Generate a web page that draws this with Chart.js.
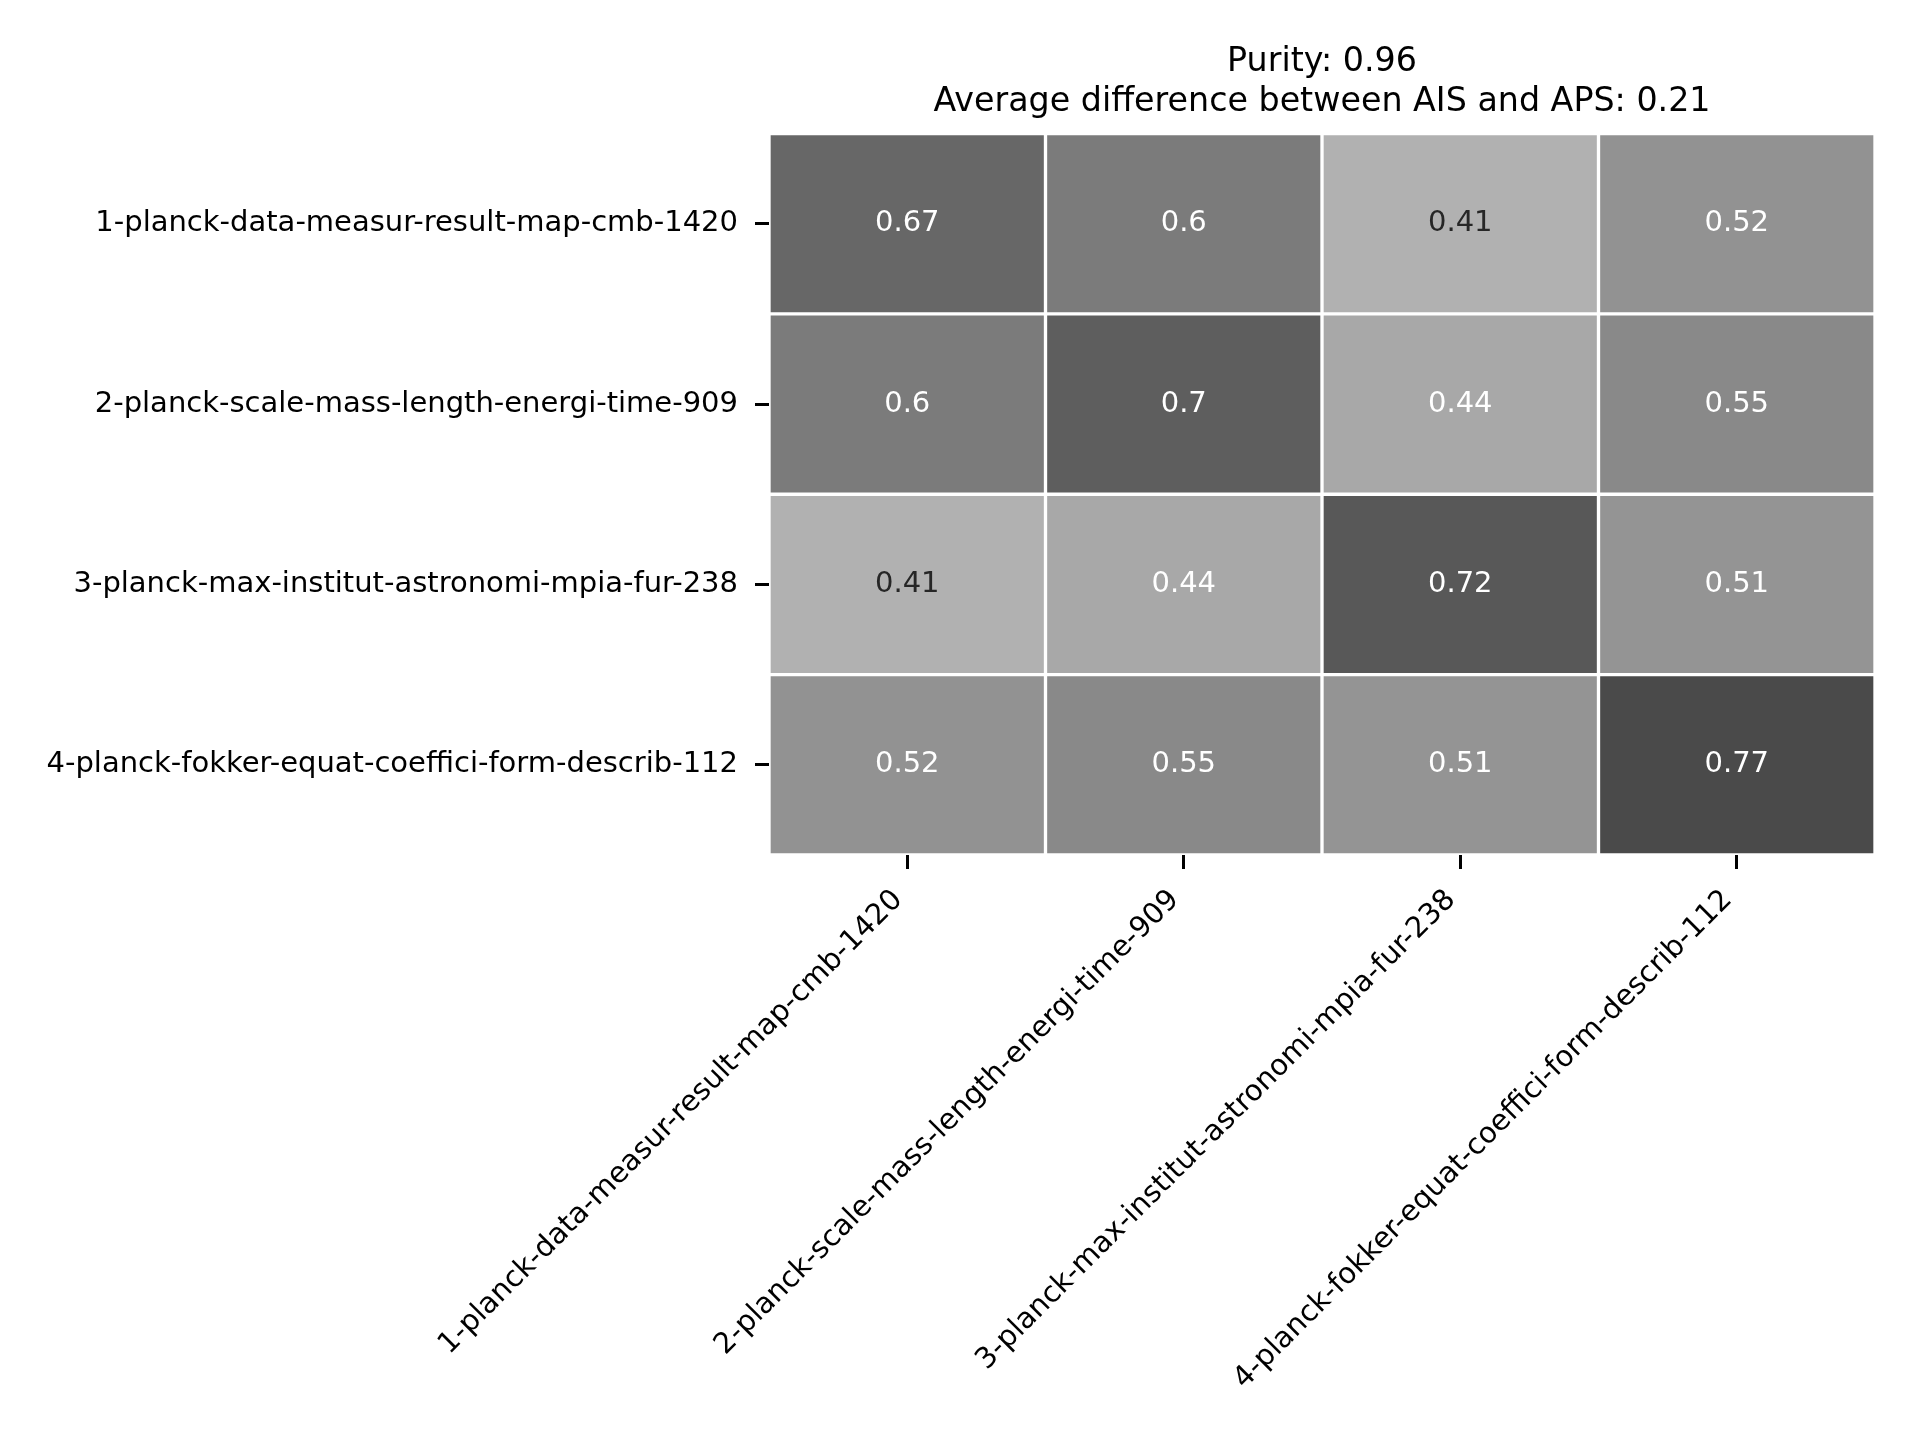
<!DOCTYPE html>
<html>
<head>
<meta charset="utf-8">
<script src="https://cdn.jsdelivr.net/npm/chart.js@4.4.1/dist/chart.umd.min.js"></script>
<style>
  body { margin: 0; background: #fff; }
  #wrap { width: 1920px; height: 1440px; }
</style>
</head>
<body>
<div id="wrap"><canvas id="myChart" width="1920" height="1440"></canvas></div>
<script>
// topics on both axes
const topics = [
    '1-planck-data-measur-result-map-cmb-1420',
    '2-planck-scale-mass-length-energi-time-909',
    '3-planck-max-institut-astronomi-mpia-fur-238',
    '4-planck-fokker-equat-coeffici-form-describ-112'
];
// one row per topic (top to bottom)
const row1 = [0.67, 0.6, 0.41, 0.52];
const row2 = [0.6, 0.7, 0.44, 0.55];
const row3 = [0.41, 0.44, 0.72, 0.51];
const row4 = [0.52, 0.55, 0.51, 0.77];
const rows = [row1, row2, row3, row4];

const purity = 0.96;
const avgDiff = 0.21;

// grey colormap, light for low values, dark for high
function greyLevel(v) {
    let g = Math.round(177 + (v - 0.41) * (74 - 177) / (0.77 - 0.41));
    return Math.max(0, Math.min(255, g));
}
function cellColor(v) {
    const g = greyLevel(v);
    return 'rgb(' + g + ',' + g + ',' + g + ')';
}
function textColor(v) {
    let lum = Math.pow(greyLevel(v) / 255, 2.2);
    return lum > 0.408 ? '#262626' : '#ffffff';
}

Chart.defaults.font.family = '"DejaVu Sans", sans-serif';
Chart.defaults.color = '#000';

const datasets = rows.map((row, r) => ({
    label: topics[r],
    data: row.map(() => [r, r + 1]),
    backgroundColor: row.map(cellColor),
    borderColor: '#ffffff',
    borderWidth: 2,
    borderSkipped: false,
    grouped: false,
    barPercentage: 1,
    categoryPercentage: 1
}));

const cellText = {
    id: 'cellText',
    afterDatasetsDraw(chart) {
        const ctx = chart.ctx;
        ctx.save();
        ctx.font = '29px "DejaVu Sans"';
        ctx.textAlign = 'center';
        ctx.textBaseline = 'middle';
        rows.forEach((row, r) => {
            const meta = chart.getDatasetMeta(r);
            row.forEach((v, j) => {
                const bar = meta.data[j];
                const cy = (bar.y + bar.base) / 2;
                ctx.fillStyle = textColor(v);
                ctx.fillText(String(v), bar.x, cy);
            });
        });
        ctx.restore();
    }
};

const ctx = document.getElementById('myChart');
const myChart = new Chart(ctx, {
    type: 'bar',
    data: {
        labels: topics,
        datasets: datasets
    },
    plugins: [cellText],
    options: {
        responsive: false,
        animation: false,
        devicePixelRatio: 1,
        layout: { padding: { left: 0, right: 45, top: 0, bottom: 0 } },
        plugins: {
            legend: { display: false },
            tooltip: { enabled: false },
            title: {
                display: true,
                fullSize: false,
                text: ['Purity: ' + purity, 'Average difference between AIS and APS: ' + avgDiff],
                color: '#000',
                font: { size: 33.3, weight: 'normal', lineHeight: 1.18 },
                padding: { top: 43, bottom: 12 }
            }
        },
        scales: {
            x: {
                type: 'category',
                offset: true,
                grid: {
                    offset: false,
                    drawOnChartArea: false,
                    drawTicks: true,
                    tickLength: 14,
                    tickWidth: 3,
                    tickColor: '#000'
                },
                border: { display: false },
                ticks: {
                    autoSkip: false,
                    minRotation: 45,
                    maxRotation: 45,
                    padding: 14,
                    labelOffset: -9,
                    color: '#000',
                    font: { size: 29 }
                },
                afterFit(scale) { scale.height = 1440 - 855; }
            },
            y: {
                type: 'linear',
                min: 0,
                max: 4,
                reverse: true,
                afterBuildTicks(scale) {
                    scale.ticks = topics.map((t, i) => ({ value: i + 0.5 }));
                },
                grid: {
                    drawOnChartArea: false,
                    drawTicks: true,
                    tickLength: 14,
                    tickWidth: 3,
                    tickColor: '#000'
                },
                border: { display: false },
                ticks: {
                    autoSkip: false,
                    padding: 17,
                    color: '#000',
                    font: { size: 29 },
                    callback: (v, i) => topics[i]
                },
                afterFit(scale) { scale.width = 769; }
            }
        }
    }
});
</script>
</body>
</html>
